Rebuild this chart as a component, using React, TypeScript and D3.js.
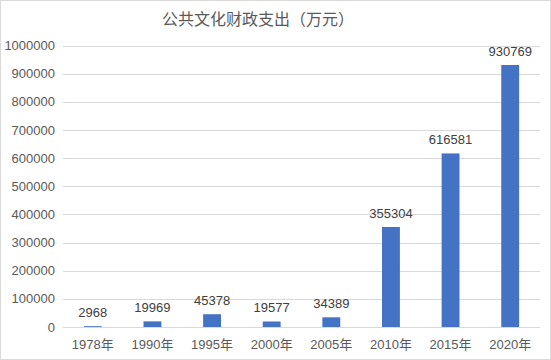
import { useRef, useEffect } from "react";
import * as d3 from "d3";

const years = ["1978年", "1990年", "1995年", "2000年", "2005年", "2010年", "2015年", "2020年"];
const spending = [2968, 19969, 45378, 19577, 34389, 355304, 616581, 930769];
const yTicks = [0, 100000, 200000, 300000, 400000, 500000, 600000, 700000, 800000, 900000, 1000000];

const W = 551;
const H = 360;
const FONT = '"Liberation Sans", Arial, "Noto Sans CJK SC", sans-serif';

export default function App() {
  const ref = useRef<SVGSVGElement | null>(null);

  useEffect(() => {
    document.body.style.margin = "0";
    const svg = d3.select(ref.current);
    svg.selectAll("*").remove();

    const margin = { top: 45.5, right: 11, bottom: 33, left: 63 };

    svg.append("rect")
      .attr("x", 0.5).attr("y", 0.5)
      .attr("width", W - 1).attr("height", H - 1)
      .attr("fill", "#fff")
      .attr("stroke", "#d9d9d9");

    const x = d3.scaleBand<string>()
      .domain(years)
      .range([margin.left, W - margin.right])
      .paddingInner(0.7)
      .paddingOuter(0.35);

    const y = d3.scaleLinear()
      .domain([0, 1000000])
      .range([H - margin.bottom, margin.top]);

    svg.append("text")
      .attr("x", 258)
      .attr("y", 25)
      .attr("text-anchor", "middle")
      .attr("fill", "#595959")
      .style("font-family", FONT)
      .style("font-size", "16px")
      .text("公共文化财政支出（万元）");

    const grid = svg.append("g");
    grid.selectAll("line")
      .data(yTicks)
      .enter()
      .append("line")
      .attr("x1", margin.left)
      .attr("x2", W - margin.right)
      .attr("y1", (d) => Math.round(y(d)) + 0.5)
      .attr("y2", (d) => Math.round(y(d)) + 0.5)
      .attr("stroke", "#d9d9d9")
      .attr("stroke-width", 1);

    grid.selectAll("text")
      .data(yTicks)
      .enter()
      .append("text")
      .attr("x", 55)
      .attr("y", (d) => y(d))
      .attr("dy", "0.35em")
      .attr("text-anchor", "end")
      .attr("fill", "#595959")
      .style("font-family", FONT)
      .style("font-size", "13px")
      .text((d) => String(d));

    const bars = svg.append("g");
    bars.selectAll("rect")
      .data(spending)
      .enter()
      .append("rect")
      .attr("x", (_, i) => x(years[i])!)
      .attr("width", x.bandwidth())
      .attr("y", (d) => y(d))
      .attr("height", (d) => y(0) - y(d))
      .attr("fill", "#4472c4");

    bars.selectAll("text")
      .data(spending)
      .enter()
      .append("text")
      .attr("x", (_, i) => x(years[i])! + x.bandwidth() / 2)
      .attr("y", (d) => y(d) - 9)
      .attr("text-anchor", "middle")
      .attr("fill", "#404040")
      .style("font-family", FONT)
      .style("font-size", "13px")
      .text((d) => String(d));

    svg.append("g")
      .selectAll("text")
      .data(years)
      .enter()
      .append("text")
      .attr("x", (d) => x(d)! + x.bandwidth() / 2)
      .attr("y", H - margin.bottom + 22)
      .attr("text-anchor", "middle")
      .attr("fill", "#595959")
      .style("font-family", FONT)
      .style("font-size", "13px")
      .text((d) => d);
  }, []);

  return <svg ref={ref} width={W} height={H} style={{ display: "block" }}></svg>;
}
